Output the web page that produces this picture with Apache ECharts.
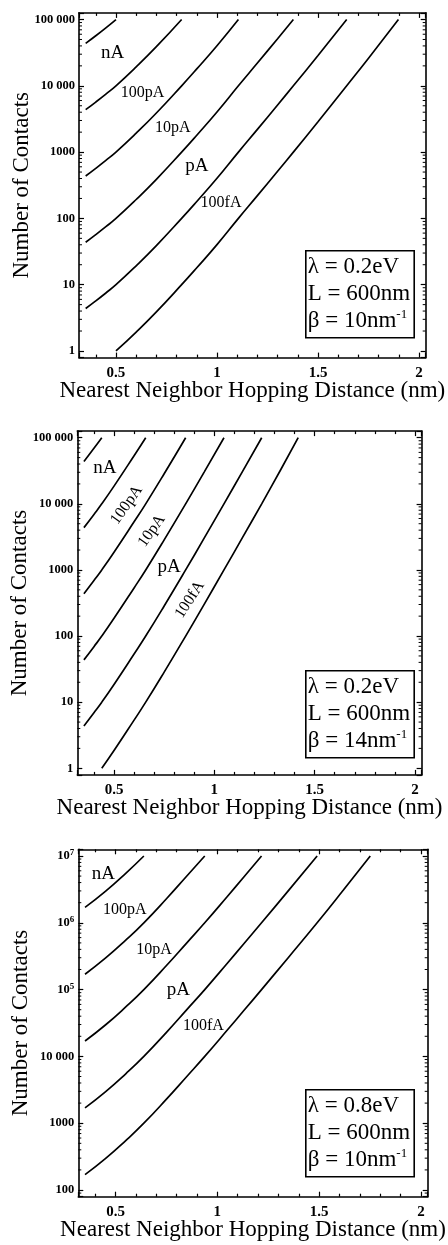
<!DOCTYPE html>
<html><head><meta charset="utf-8">
<script src="https://cdn.jsdelivr.net/npm/echarts@6/dist/echarts.min.js"></script>
<style>html,body{margin:0;padding:0;background:#fff}#c{width:448px;height:1245px}</style>
</head><body><div id="c"></div>
<script>
// ---------------- DATA ----------------
// Panel 1 : lambda = 0.2 eV, L = 600 nm, beta = 10 nm^-1
const p1X  = [0.35, 0.4, 0.45, 0.5, 0.6, 0.7, 0.825, 0.9, 1.0, 1.106, 1.2, 1.3, 1.378, 1.5, 1.642, 1.75, 1.898];
const p1C1 = [43650, 56890, 74990, 100000, null, null, null, null, null, null, null, null, null, null, null, null, null];
const p1C2 = [4365, 5689, 7499, 10000, 19280, 38900, 100000, null, null, null, null, null, null, null, null, null, null];
const p1C3 = [436.5, 568.9, 749.9, 1000, 1928, 3890, 10000, 17990, 40270, 100000, null, null, null, null, null, null, null];
const p1C4 = [43.65, 56.89, 74.99, 100, 192.8, 389, 1000, 1799, 4027, 10000, 22030, 51400, 100000, null, null, null, null];
const p1C5 = [4.365, 5.689, 7.499, 10, 19.28, 38.9, 100, 179.9, 402.7, 1000, 2203, 5140, 10000, 28680, 100000, null, null];
const p1C6 = [null, null, null, 1, 1.928, 3.89, 10, 17.99, 40.27, 100, 220.3, 514, 1000, 2868, 10000, 26060, 100000];

// Panel 2 : lambda = 0.2 eV, L = 600 nm, beta = 14 nm^-1
const p2X  = [0.35, 0.4, 0.439, 0.5, 0.6, 0.658, 0.75, 0.857, 0.95, 1.048, 1.14, 1.236, 1.33, 1.418];
const p2C1 = [43650, 69180, 100000, null, null, null, null, null, null, null, null, null, null, null];
const p2C2 = [4365, 6918, 10000, 18540, 53460, 100000, null, null, null, null, null, null, null, null];
const p2C3 = [436.5, 691.8, 1000, 1854, 5346, 10000, 28510, 100000, null, null, null, null, null, null];
const p2C4 = [43.65, 69.18, 100, 185.4, 534.6, 1000, 2851, 10000, 30480, 100000, null, null, null, null];
const p2C5 = [4.365, 6.918, 10, 18.54, 53.46, 100, 285.1, 1000, 3048, 10000, 30760, 100000, null, null];
const p2C6 = [null, null, 1, 1.854, 5.346, 10, 28.51, 100, 304.8, 1000, 3076, 10000, 32510, 100000];

// Panel 3 : lambda = 0.8 eV, L = 600 nm, beta = 10 nm^-1
const p3X  = [0.35, 0.45, 0.55, 0.639, 0.75, 0.85, 0.938, 1.05, 1.13, 1.217, 1.35, 1.49, 1.62, 1.751];
const p3C1 = [1.698e6, 2.951e6, 5.495e6, 1e7, null, null, null, null, null, null, null, null, null, null];
const p3C2 = [1.698e5, 2.951e5, 5.495e5, 1e6, 2.291e6, 5.012e6, 1e7, null, null, null, null, null, null, null];
const p3C3 = [16980, 29510, 54950, 1e5, 2.291e5, 5.012e5, 1e6, 2.5e6, 4.853e6, 1e7, null, null, null, null];
const p3C4 = [1698, 2951, 5495, 1e4, 22910, 50120, 1e5, 2.5e5, 4.853e5, 1e6, 3.055e6, 1e7, null, null];
const p3C5 = [169.8, 295.1, 549.5, 1000, 2291, 5012, 1e4, 25000, 48530, 1e5, 3.055e5, 1e6, 3.119e6, 1e7];

// Tick values and labels
const xTickValues = [0.5, 1, 1.5, 2];
const xTickLabels = ['0.5', '1', '1.5', '2'];
const p12YTickValues = [1, 10, 100, 1000, 10000, 100000];
const p12YTickLabels = ['1', '10', '100', '1000', '10 000', '100 000'];
const p3YTickValues = [100, 1000, 10000, 1e5, 1e6, 1e7];
const p3YTickLabels = ['100', '1000', '10 000', '10{e|5}', '10{e|6}', '10{e|7}'];

// Current labels (text shown between contours)
const currentNames = ['nA', '100pA', '10pA', 'pA', '100fA'];

// Parameter boxes
const p1Params = ['λ = 0.2eV', 'L = 600nm', 'β = 10nm{s|-1}'];
const p2Params = ['λ = 0.2eV', 'L = 600nm', 'β = 14nm{s|-1}'];
const p3Params = ['λ = 0.8eV', 'L = 600nm', 'β = 10nm{s|-1}'];

const xTitle = 'Nearest Neighbor Hopping Distance (nm)';
const yTitle = 'Number of Contacts';

// ---------------- LAYOUT ----------------
const FONT = '"Liberation Serif", "Times New Roman", serif';
const panels = [
  { grid: {left: 79, top: 12.9, width: 346.7, height: 344.7},
    x: p1X, curves: [p1C1, p1C2, p1C3, p1C4, p1C5, p1C6],
    yMinExp: -0.1, yMaxExp: 5.1, decades: [0, 4],
    yTicks: p12YTickValues, yLabels: p12YTickLabels,
    // label anchors in data coordinates [x, N, rotate, fontSize]
    anchors: [[0.483, 31600, 0, 19], [0.631, 7950, 0, 16], [0.781, 2350, 0, 16], [0.900, 613, 0, 19], [1.02, 170, 0, 16]],
    params: p1Params, box: [305, 250] },
  { grid: {left: 77.3, top: 431.1, width: 344.3, height: 343.8},
    x: p2X, curves: [p2C1, p2C2, p2C3, p2C4, p2C5, p2C6],
    yMinExp: -0.1, yMaxExp: 5.1, decades: [0, 4],
    yTicks: p12YTickValues, yLabels: p12YTickLabels,
    anchors: [[0.454, 34700, 0, 19], [0.563, 9600, 55, 16], [0.688, 3900, 55, 16], [0.774, 1120, 0, 19], [0.878, 355, 57, 16]],
    params: p2Params, box: [305, 670] },
  { grid: {left: 78.3, top: 849.3, width: 349.4, height: 347.4},
    x: p3X, curves: [p3C1, p3C2, p3C3, p3C4, p3C5],
    yMinExp: 1.9, yMaxExp: 7.1, decades: [1, 6],
    yTicks: p3YTickValues, yLabels: p3YTickLabels,
    anchors: [[0.44, 5.37e6, 0, 19], [0.545, 1.55e6, 0, 16], [0.689, 3.9e5, 0, 16], [0.808, 1e5, 0, 19], [0.931, 2.9e4, 0, 16]],
    params: p3Params, box: [305, 1089] }
];

const chart = echarts.init(document.getElementById('c'), null, {renderer: 'canvas'});
const grids = [], xAxes = [], yAxes = [], series = [], graphics = [];

panels.forEach((p, i) => {
  grids.push(Object.assign({containLabel: false, outerBoundsMode: 'none', show: false}, p.grid));
  const xBase = {
    type: 'value', gridIndex: i, min: 0.317, max: 2.033, splitNumber: 4,
    minInterval: 0.5, maxInterval: 0.5, nameMoveOverlap: false,
    axisLine: {show: true, onZero: false, lineStyle: {color: '#000', width: 1.6}},
    axisTick: {show: true, inside: true, length: 5, lineStyle: {color: '#000', width: 1.2}},
    minorTick: {show: true, splitNumber: 5, length: 3, lineStyle: {color: '#000', width: 1.2}},
    splitLine: {show: false}, minorSplitLine: {show: false}
  };
  xAxes.push(Object.assign({}, xBase, {
    position: 'bottom',
    axisLabel: {show: true, margin: 8, color: '#000', fontFamily: FONT, fontWeight: 'bold', fontSize: 15,
      formatter: v => { const k = xTickValues.findIndex(t => Math.abs(t - v) < 1e-6); return k >= 0 ? xTickLabels[k] : ''; }},
    name: xTitle, nameLocation: 'middle', nameGap: 22,
    nameTextStyle: {color: '#000', fontFamily: FONT, fontSize: 23}
  }));
  xAxes.push(Object.assign({}, xBase, {position: 'top', axisLabel: {show: false}}));

  const yBase = {
    type: 'log', logBase: 10, gridIndex: i, nameMoveOverlap: false,
    min: Math.pow(10, p.yMinExp), max: Math.pow(10, p.yMaxExp),
    axisLine: {show: true, onZero: false, lineStyle: {color: '#000', width: 1.6}},
    axisTick: {show: true, inside: true, length: 5, lineStyle: {color: '#000', width: 1.2}},
    minorTick: {show: false}, splitLine: {show: false}, minorSplitLine: {show: false}
  };
  yAxes.push(Object.assign({}, yBase, {
    position: 'left',
    axisLabel: {show: true, margin: 4, color: '#000', fontFamily: FONT, fontWeight: 'bold', fontSize: 12.5,
      rich: {e: {fontFamily: FONT, fontWeight: 'bold', fontSize: 9, verticalAlign: 'top', padding: [0, 0, 6, 0]}},
      formatter: v => { const k = p.yTicks.findIndex(t => Math.abs(Math.log10(t) - Math.log10(v)) < 1e-6); return k >= 0 ? p.yLabels[k] : ''; }},
    name: yTitle, nameLocation: 'middle', nameGap: 46, nameRotate: 90,
    nameTextStyle: {color: '#000', fontFamily: FONT, fontSize: 23}
  }));
  yAxes.push(Object.assign({}, yBase, {position: 'right', axisLabel: {show: false}}));

  // contour curves
  p.curves.forEach(c => {
    series.push({
      type: 'line', xAxisIndex: 2 * i, yAxisIndex: 2 * i,
      data: p.x.map((xv, k) => [xv, c[k]]),
      showSymbol: false, smooth: 0.5, connectNulls: false, clip: true,
      lineStyle: {color: '#000', width: 1.7}, silent: true, animation: false
    });
  });

  // current labels
  series.push({
    type: 'scatter', xAxisIndex: 2 * i, yAxisIndex: 2 * i, symbolSize: 0,
    itemStyle: {color: '#000', opacity: 0}, silent: true, animation: false,
    data: p.anchors.map((a, k) => ({
      value: [a[0], a[1]], name: currentNames[k],
      label: {show: true, position: 'inside', formatter: '{b}', rotate: a[2], color: '#000', opacity: 1,
        textBorderWidth: 0, fontFamily: FONT, fontSize: a[3]}
    }))
  });

  // logarithmic minor ticks on left and right frame edges
  const minor = [];
  for (let d = p.decades[0]; d <= p.decades[1] + 1; d++) {
    for (let m = 2; m <= 9; m++) minor.push([1, m * Math.pow(10, d)]);
  }
  series.push({
    type: 'custom', xAxisIndex: 2 * i, yAxisIndex: 2 * i, silent: true, animation: false,
    data: minor, encode: {x: 0, y: 1}, clip: false,
    renderItem: (params, api) => {
      const cs = params.coordSys;
      const y = api.coord([1, api.value(1)])[1];
      if (y < cs.y || y > cs.y + cs.height) return null;
      const st = {stroke: '#000', lineWidth: 1};
      return {type: 'group', children: [
        {type: 'line', shape: {x1: cs.x, y1: y, x2: cs.x + 3, y2: y}, style: st},
        {type: 'line', shape: {x1: cs.x + cs.width - 3, y1: y, x2: cs.x + cs.width, y2: y}, style: st}
      ]};
    }
  });

  // parameter box
  graphics.push({
    type: 'text', left: p.box[0], top: p.box[1], silent: true,
    style: {
      text: p.params.join('\n'), fill: '#000', font: '23px ' + FONT, lineHeight: 27,
      borderColor: '#000', borderWidth: 1.6, padding: [3, 4, 3, 2],
      rich: {s: {font: '13px ' + FONT, fill: '#000', verticalAlign: 'top', lineHeight: 16}}
    }
  });
});

chart.setOption({
  animation: false, backgroundColor: '#fff',
  grid: grids, xAxis: xAxes, yAxis: yAxes, series: series, graphic: graphics
});
</script></body></html>
